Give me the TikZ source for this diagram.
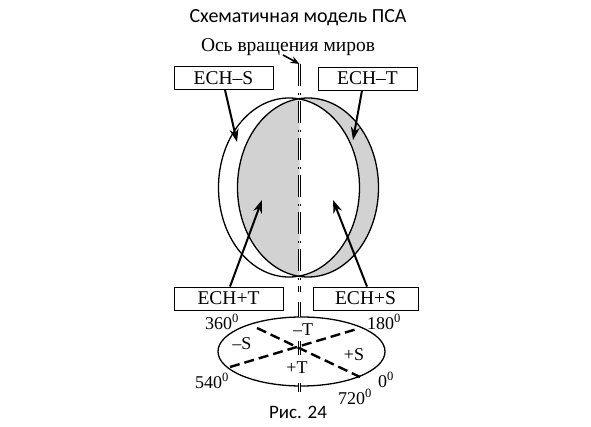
\documentclass[tikz,border=0pt]{standalone}
\usepackage{fontspec}
\setmainfont{Liberation Serif}
\newfontfamily\sansf{Carlito}
\usetikzlibrary{arrows.meta,shapes.geometric}
\definecolor{grayfill}{RGB}{210,210,210}
\begin{document}
\begin{tikzpicture}[x=1pt,y=-1pt,
  box/.style={draw,line width=0.9pt,minimum height=23pt,inner sep=0pt,font=\fontsize{19.5}{19.5}\selectfont},
  lbl/.style={inner sep=0pt,font=\fontsize{18}{18}\selectfont},
  arr/.style={line width=2pt,-{Stealth[length=13pt,width=9pt]}},
  ell/.style={line width=1.3pt},
  axisline/.style={double,line width=0.7pt,double distance=1.6pt,dash pattern=on 22pt off 7pt on 2pt off 6pt},
  dbl/.style={double,line width=0.7pt,double distance=1.6pt},
  dsh/.style={line width=2.4pt,dash pattern=on 10pt off 5pt}]
\useasboundingbox (0,0) rectangle (591,427);
% title
\node[inner sep=0pt,font=\sansf\fontsize{20}{20}\selectfont] (title) at (298,18) {Схематичная модель ПСА};
\node[inner sep=0pt,font=\fontsize{19.5}{19.5}\selectfont] (axl) at (288,47) {Ось вращения миров};
% ellipses fills
\fill[grayfill] (308,187.5) ellipse (70.5 and 89.5);
\begin{scope}
  \clip (299.5,90) rectangle (400,285);
  \fill[white] (289,187.5) ellipse (70.5 and 89.5);
\end{scope}
\draw[ell] (289,187.5) ellipse (70.5 and 89.5);
\draw[ell] (308,187.5) ellipse (70.5 and 89.5);
% axis
\coordinate (axtop) at (299.5,64);
\coordinate (axbot) at (299.5,292);
\draw[axisline] (axtop) -- (axbot);
\coordinate (axlstart) at (283,55);
\draw[line width=1.6pt,-{Stealth[length=9pt,width=7pt]}] (axlstart) -- (axtop);
% boxes
\node[box,minimum width=99pt] (echms) at (223.5,78) {ECH–S};
\node[box,minimum width=99pt] (echmt) at (367.5,78.5) {ECH–T};
\node[box,minimum width=109pt] (echpt) at (228.5,298.5) {ECH+T};
\node[box,minimum width=105pt] (echps) at (365.5,298.5) {ECH+S};
% arrow targets
\coordinate (tms) at (237,142);
\coordinate (tmt) at (353,140);
\coordinate (tpt) at (262,200);
\coordinate (tps) at (333,200);
\draw[arr] (echms.south -| 225,0) -- (tms);
\draw[arr] (echmt.south -| 362,0) -- (tmt);
\draw[arr] (echpt.north -| 230,0) -- (tpt);
\draw[arr] (echps.north -| 367,0) -- (tps);
% bottom ellipse
\draw[ell] (301.5,351.5) ellipse (83.5 and 34.5);
\coordinate (a1) at (299.5,302);
\coordinate (a2) at (299.5,317);
\draw[dbl] (a1) -- (a2);
\coordinate (b1) at (299.5,383);
\coordinate (b2) at (299.5,392);
\draw[dbl] (b1) -- (b2);
\coordinate (c1) at (299.5,341);
\coordinate (c2) at (299.5,355);
\draw[dbl] (c1) -- (c2);
\coordinate (d1) at (257,328);
\coordinate (d2) at (360,377);
\coordinate (e1) at (230,367);
\coordinate (e2) at (357,329);
\draw[dsh] (d1) -- (d2);
\draw[dsh] (e1) -- (e2);
% labels
\node[lbl] (l360) at (222,322) {360\textsuperscript{0}};
\node[lbl] (l180) at (384,322) {180\textsuperscript{0}};
\node[lbl] (l540) at (212,381) {540\textsuperscript{0}};
\node[lbl] (l720) at (355,397) {720\textsuperscript{0}};
\node[lbl] (l0) at (386,380) {0\textsuperscript{0}};
\node[lbl] (mT) at (303,330) {–T};
\node[lbl] (mS) at (242,344) {–S};
\node[lbl] (pS) at (354,355) {+S};
\node[lbl] (pT) at (297,368) {+T};
\node[inner sep=0pt,font=\sansf\fontsize{19}{19}\selectfont] (fig) at (298,412) {Рис. 24};
\end{tikzpicture}
\end{document}
